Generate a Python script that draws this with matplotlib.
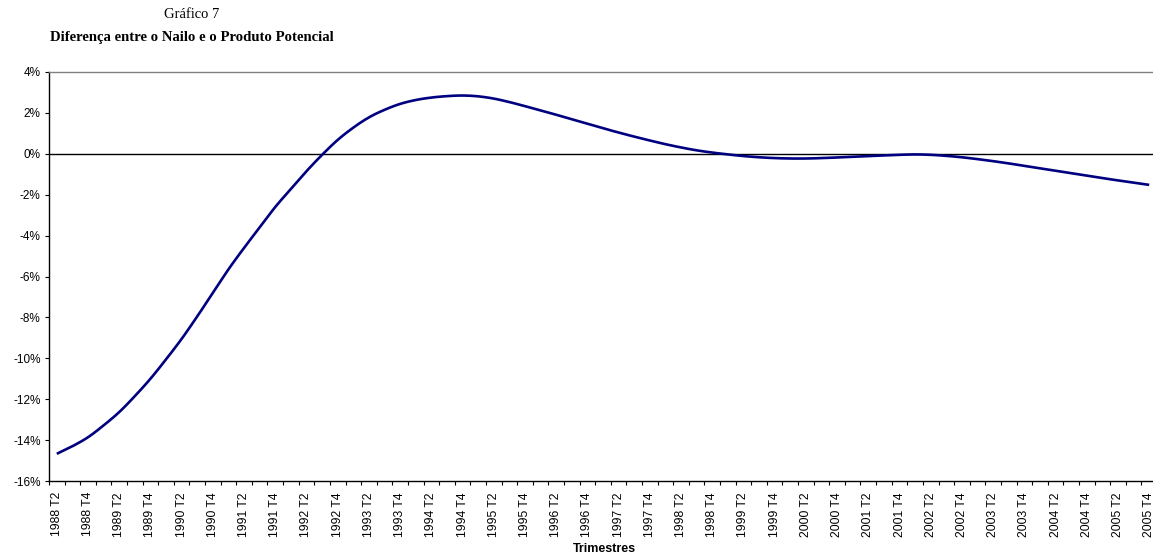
import matplotlib
matplotlib.use("Agg")
import matplotlib.pyplot as plt
import numpy as np

# Data: quarterly output gap (%), 1988 T2 .. 2005 T4
years = list(range(1988, 2006))
quarters = []
for y in years:
    for q in (1, 2, 3, 4):
        if (y == 1988 and q < 2):
            continue
        quarters.append(f"{y} T{q}")

gap = [-14.67, -14.30, -13.86, -13.28, -12.63, -11.85, -11.00, -10.05, -9.05, -7.95,
       -6.80, -5.65, -4.60, -3.60, -2.60, -1.72, -0.85, -0.05, 0.68, 1.28,
       1.78, 2.15, 2.44, 2.63, 2.75, 2.82, 2.85, 2.81, 2.70, 2.53,
       2.33, 2.12, 1.91, 1.69, 1.47, 1.25, 1.04, 0.84, 0.65, 0.47,
       0.31, 0.17, 0.06, -0.03, -0.11, -0.17, -0.21, -0.23, -0.23, -0.21,
       -0.18, -0.15, -0.12, -0.08, -0.05, -0.03, -0.05, -0.10, -0.17, -0.26,
       -0.36, -0.47, -0.59, -0.71, -0.83, -0.95, -1.07, -1.19, -1.30, -1.41,
       -1.52]

yticks = [4, 2, 0, -2, -4, -6, -8, -10, -12, -14, -16]


def catmull_rom(xs, ys, n=12):
    xs = np.asarray(xs, float)
    ys = np.asarray(ys, float)
    px = np.concatenate([[2 * xs[0] - xs[1]], xs, [2 * xs[-1] - xs[-2]]])
    py = np.concatenate([[2 * ys[0] - ys[1]], ys, [2 * ys[-1] - ys[-2]]])
    ox, oy = [], []
    t = np.linspace(0, 1, n, endpoint=False)
    for i in range(1, len(px) - 2):
        for arr, out in ((px, ox), (py, oy)):
            p0, p1, p2, p3 = arr[i - 1], arr[i], arr[i + 1], arr[i + 2]
            out.extend(0.5 * ((2 * p1) + (-p0 + p2) * t
                              + (2 * p0 - 5 * p1 + 4 * p2 - p3) * t ** 2
                              + (-p0 + 3 * p1 - 3 * p2 + p3) * t ** 3))
    ox.append(xs[-1])
    oy.append(ys[-1])
    return np.array(ox), np.array(oy)


W, H = 1153, 556
fig = plt.figure(figsize=(W / 100, H / 100), dpi=100)
left, right, top, bottom = 49, 1157, 72, 481
ax = fig.add_axes([left / W, 1 - bottom / H, (right - left) / W, (bottom - top) / H])

x = np.arange(len(gap))
sx, sy = catmull_rom(x, gap)
ax.plot(sx, sy, color="#000080", lw=1.9, solid_capstyle="butt")
ax.axhline(0, color="black", lw=1.0, zorder=1)

ax.set_xlim(-0.5, len(gap) - 0.5)
ax.set_ylim(-16, 4)

ax.set_yticks(yticks)
ax.set_yticklabels([f"{v}%" for v in yticks], family="Liberation Sans", fontsize=8.5)

ax.set_xticks(np.arange(-0.5, len(gap) + 0.5, 1.0))
ax.set_xticklabels([])
ax.set_xticks(x[::2], minor=True)
ax.set_xticklabels([quarters[i] for i in x[::2]], minor=True, rotation=90,
                   family="Liberation Sans", fontsize=8.7)
ax.tick_params(axis="x", which="minor", length=0, pad=8)
ax.tick_params(axis="x", which="major", length=3, width=0.8, direction="out")
ax.tick_params(axis="y", length=3, width=0.8, pad=3, direction="out")

for s in ("left", "bottom"):
    ax.spines[s].set_color("black")
    ax.spines[s].set_linewidth(1.0)
ax.spines["top"].set_color("#808080")
ax.spines["top"].set_linewidth(1.0)
ax.spines["right"].set_visible(False)

fig.text(192 / W, 1 - 14 / H, "Gráfico 7", ha="center", va="center",
         family="Liberation Serif", fontsize=10.5)
fig.text(192 / W, 1 - 38 / H, "Diferença entre o Nailo e o Produto Potencial",
         ha="center", va="center", family="Liberation Serif", fontsize=10.6,
         fontweight="bold")
fig.text(604 / W, 1 - 549 / H, "Trimestres", ha="center", va="center",
         family="Liberation Sans", fontsize=9, fontweight="bold")

fig.savefig("out.png", dpi=100)
